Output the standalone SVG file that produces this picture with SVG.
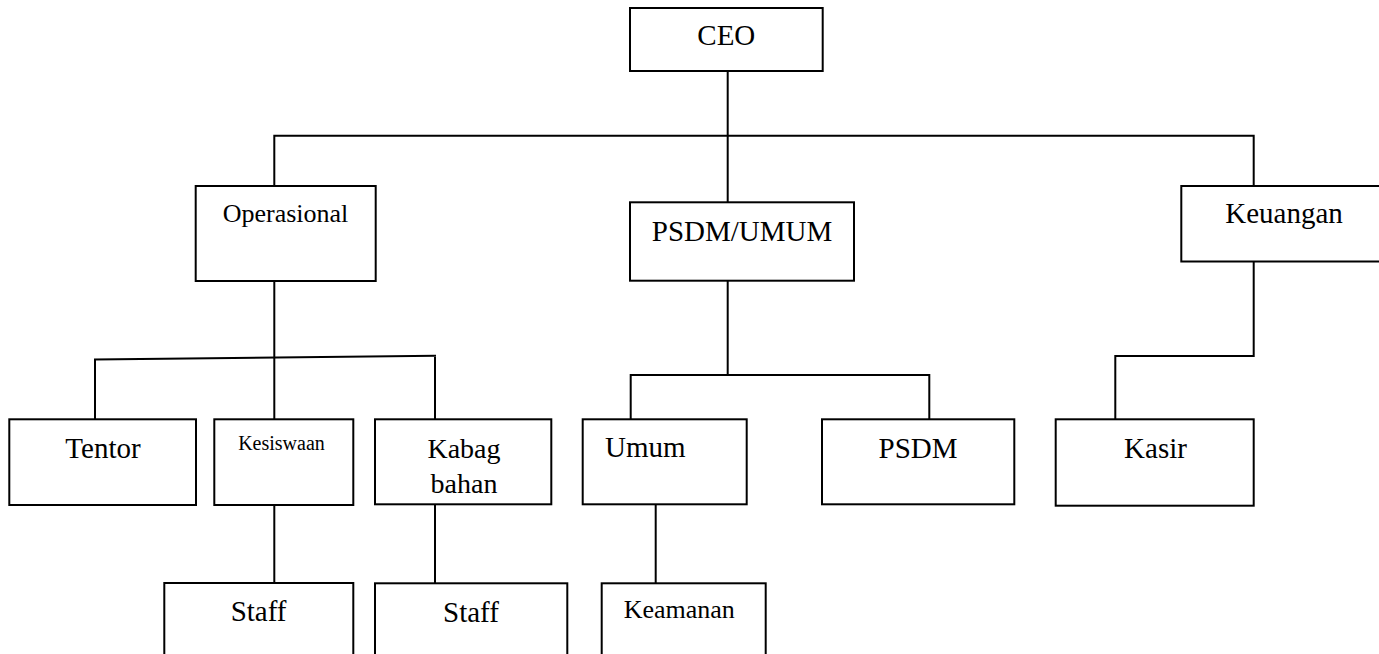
<svg xmlns="http://www.w3.org/2000/svg" width="1379" height="654" viewBox="0 0 1379 654">
<style>
.box{fill:#fff;stroke:#000;stroke-width:2}
.ln{fill:none;stroke:#000;stroke-width:2}
text{font-family:"Liberation Serif","Times New Roman",serif;fill:#000;font-size:29px}
.c{text-anchor:middle}
</style>
<rect width="1379" height="654" fill="#fff"/>
<g id="connectors">
<path class="ln" d="M727.7 71V202.3"/>
<path class="ln" d="M274.3 186V135.7H1253.7V186"/>
<path class="ln" d="M274.3 281V419.3"/>
<path class="ln" d="M95 419.3V359.5L436 355.7"/>
<path class="ln" d="M435 357V419.3"/>
<path class="ln" d="M274.3 505V583"/>
<path class="ln" d="M435 504.3V583.3"/>
<path class="ln" d="M727.7 280.7V375"/>
<path class="ln" d="M630.7 419.3V375H929.3V419.3"/>
<path class="ln" d="M655.7 504.3V583.3"/>
<path class="ln" d="M1253.7 261.5V356H1115.3V419.3"/>
</g>
<g id="ceo"><rect class="box" x="630" y="8" width="192.7" height="63"/><text class="c" x="726.3" y="45">CEO</text></g>
<g id="operasional"><rect class="box" x="195.7" y="186" width="180" height="95"/><text class="c" x="285.5" y="221.7" style="font-size:26px">Operasional</text></g>
<g id="psdm-umum"><rect class="box" x="630" y="202.3" width="224" height="78.4"/><text class="c" x="742" y="240.7">PSDM/UMUM</text></g>
<g id="keuangan"><rect class="box" x="1181.3" y="186" width="206" height="75.5"/><text class="c" x="1284" y="223.3">Keuangan</text></g>
<g id="tentor"><rect class="box" x="9.3" y="419.3" width="186.7" height="85.7"/><text class="c" x="103" y="458">Tentor</text></g>
<g id="kesiswaan"><rect class="box" x="214.3" y="419.3" width="139" height="85.7"/><text class="c" x="281.5" y="450" style="font-size:20px">Kesiswaan</text></g>
<g id="kabag-bahan"><rect class="box" x="375" y="419.3" width="176.3" height="85"/><text class="c" x="464" y="458.3" style="font-size:28px">Kabag</text><text class="c" x="464" y="493.3" style="font-size:28px">bahan</text></g>
<g id="umum"><rect class="box" x="582.7" y="419.3" width="164" height="85"/><text x="605" y="457">Umum</text></g>
<g id="psdm"><rect class="box" x="822" y="419.3" width="192.3" height="85"/><text class="c" x="918" y="458.3">PSDM</text></g>
<g id="kasir"><rect class="box" x="1055.7" y="419.3" width="198" height="86.4"/><text class="c" x="1155.5" y="457.7">Kasir</text></g>
<g id="staff-1"><rect class="box" x="164.3" y="583" width="189" height="90"/><text class="c" x="258.6" y="620.7">Staff</text></g>
<g id="staff-2"><rect class="box" x="375" y="583.3" width="192.3" height="90"/><text class="c" x="471" y="621.7">Staff</text></g>
<g id="keamanan"><rect class="box" x="601.7" y="583.3" width="164" height="90"/><text class="c" x="679.3" y="617.7" style="font-size:26px">Keamanan</text></g>
</svg>
